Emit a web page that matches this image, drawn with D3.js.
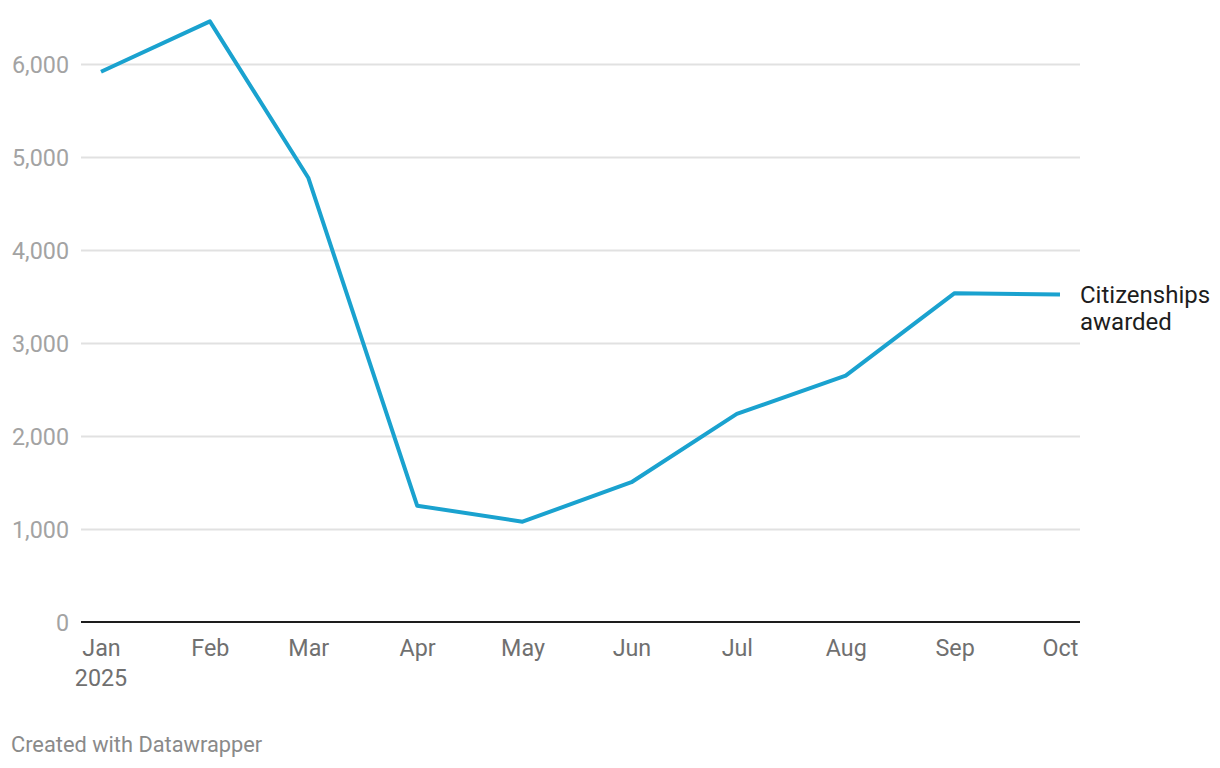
<!DOCTYPE html>
<html><head><meta charset="utf-8">
<script src="https://cdn.jsdelivr.net/npm/d3@7/dist/d3.min.js"></script>
<style>
html,body{margin:0;padding:0;background:#fff;}
svg{display:block;font-family:Roboto,"Noto Sans",sans-serif;}
</style></head>
<body><svg id="c" width="1220" height="768"></svg>
<script>
const months = ["2025-01-01","2025-02-01","2025-03-01","2025-04-01","2025-05-01","2025-06-01","2025-07-01","2025-08-01","2025-09-01","2025-10-01"];
const monthLabels = ["Jan","Feb","Mar","Apr","May","Jun","Jul","Aug","Sep","Oct"];
const citizenships = [5917, 6458, 4777, 1251, 1079, 1503, 2238, 2650, 3536, 3521];
const yTicks = [0,1000,2000,3000,4000,5000,6000];
const seriesLabel = ["Citizenships","awarded"];
const footer = "Created with Datawrapper";

(function(){
const parse = d3.timeParse("%Y-%m-%d");
const dates = months.map(parse);
const data = dates.map((d,i)=>({date:d, value:citizenships[i]}));

const svg = d3.select("#c");
const mLeft = 81, mRight = 1080, mTop = 64, mBottom = 622;
const x = d3.scaleTime().domain([dates[0], dates[dates.length-1]]).range([mLeft+20, mRight-20]);
const y = d3.scaleLinear().domain([0,6000]).range([mBottom, mTop]);

// gridlines
const grid = svg.append("g").attr("transform",`translate(${mLeft},0)`)
  .call(d3.axisLeft(y).tickValues(yTicks.filter(v=>v>0)).tickSize(-(mRight-mLeft)).tickFormat(""));
grid.select(".domain").remove();
grid.selectAll("line").attr("stroke","#e1e1e1").attr("stroke-width",2);

// y labels
const yl = svg.append("g").attr("transform",`translate(69,0)`)
  .call(d3.axisLeft(y).tickValues(yTicks).tickSize(0).tickPadding(0).tickFormat(d3.format(",")));
yl.select(".domain").remove();
yl.selectAll("text").attr("fill","#a3a3a3").attr("font-size","23.3px").attr("font-family","Roboto").attr("dy","0.36em");

// baseline
svg.append("line").attr("x1",mLeft).attr("x2",mRight).attr("y1",y(0)).attr("y2",y(0))
  .attr("stroke","#1d1d1d").attr("stroke-width",2);

// x labels
const xl = svg.append("g").attr("transform",`translate(0,${mBottom})`)
  .call(d3.axisBottom(x).tickValues(dates).tickSize(0).tickPadding(0).tickFormat((d,i)=>monthLabels[i]));
xl.select(".domain").remove();
xl.selectAll("text").attr("fill","#707070").attr("font-size","23.3px").attr("font-family","Roboto").attr("dy",null).attr("y",34);
xl.append("text").attr("x",x(dates[0])).attr("y",64).attr("text-anchor","middle")
  .attr("fill","#707070").attr("font-size","23.3px").attr("font-family","Roboto").text("2025");

// line
svg.append("path").datum(data)
  .attr("fill","none").attr("stroke","#1aa2cf").attr("stroke-width",4)
  .attr("stroke-linejoin","round")
  .attr("d", d3.line().x(d=>x(d.date)).y(d=>y(d.value)));

// series label
const last = data[data.length-1];
const lab = svg.append("text").attr("x",1080).attr("y",y(last.value)+8)
  .attr("font-size","24px").attr("fill","#1d1d1d");
seriesLabel.forEach((t,i)=>lab.append("tspan").attr("x",1080).attr("dy",i?27:0).text(t));

// footer
svg.append("text").attr("x",11).attr("y",752).attr("font-size","21.8px").attr("fill","#8a8a8a").text(footer);
})();
</script></body></html>
